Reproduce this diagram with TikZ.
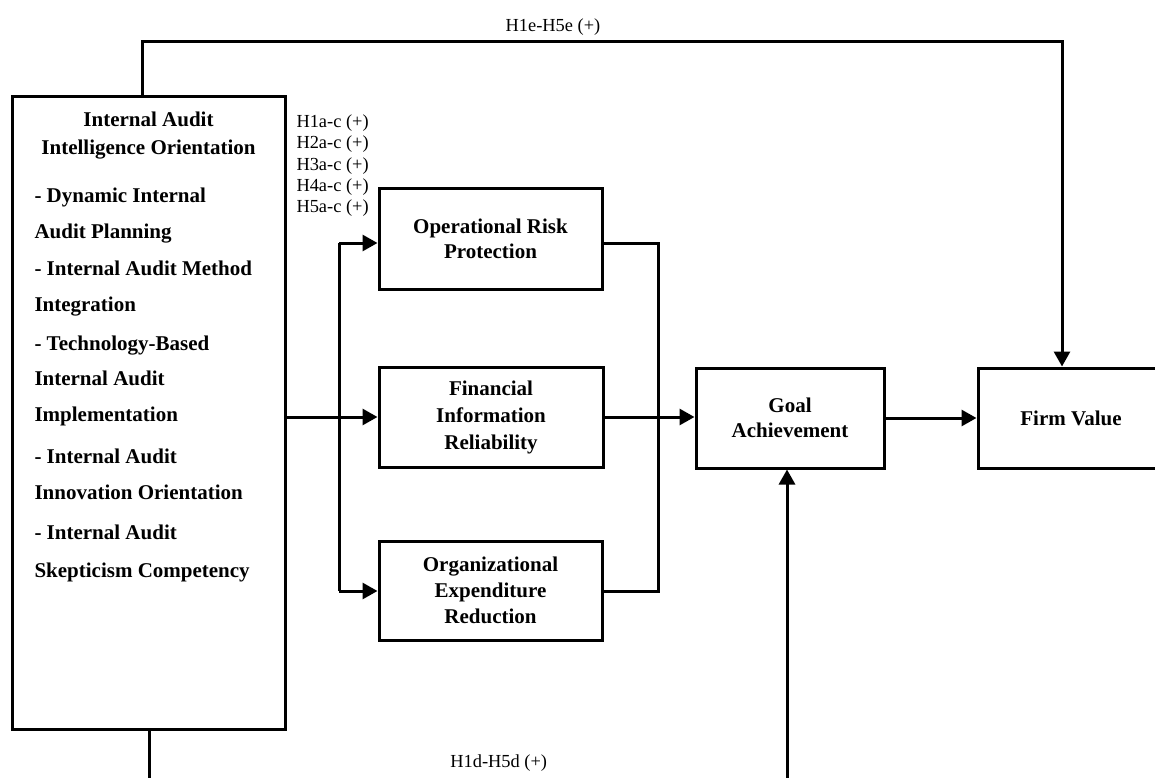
\documentclass[tikz,border=0pt]{standalone}
\usepackage{fontspec}
\setmainfont{Liberation Serif}
\usetikzlibrary{arrows.meta}
\begin{document}
\begin{tikzpicture}[x=1pt,y=-1pt,line width=3pt,
  box/.style={draw, rectangle, inner sep=0pt, align=center,
    font=\bfseries\fontsize{21}{25}\selectfont},
  itm/.style={font=\bfseries\fontsize{21}{25}\selectfont, inner sep=0pt, anchor=base west},
  lbl/.style={font=\fontsize{18.4}{21.2}\selectfont, inner sep=0pt, anchor=base},
  arr/.style={-{Triangle[length=15pt,width=16pt]}}
]
\useasboundingbox (0,0) rectangle (1155,778);

% independent construct with its five dimensions
\node[box, minimum width=273pt, minimum height=632pt] (ia) at (148.5,413) {};
\node[itm, anchor=base] (iat1) at (148.5,127) {Internal Audit};
\node[itm, anchor=base] (iat2) at (148.5,154) {Intelligence Orientation};
\node[itm] (d1a) at (33,202) {- Dynamic Internal};
\node[itm] (d1b) at (33,238) {Audit Planning};
\node[itm] (d2a) at (33,275) {- Internal Audit Method};
\node[itm] (d2b) at (33,311) {Integration};
\node[itm] (d3a) at (33,350) {- Technology-Based};
\node[itm] (d3b) at (33,385) {Internal Audit};
\node[itm] (d3c) at (33,421) {Implementation};
\node[itm] (d4a) at (33,463) {- Internal Audit};
\node[itm] (d4b) at (33,499) {Innovation Orientation};
\node[itm] (d5a) at (33,539) {- Internal Audit};
\node[itm] (d5b) at (33,577) {Skepticism Competency};

% mediators, goal and outcome
\node[box, minimum width=223pt, minimum height=101pt] (orp) at (490.5,238.5) {Operational Risk\\Protection};
\node[box, minimum width=224pt, minimum height=100pt, font=\bfseries\fontsize{21}{27}\selectfont] (fir) at (491,417) {Financial\\Information\\Reliability};
\node[box, minimum width=223pt, minimum height=99pt, font=\bfseries\fontsize{21}{26}\selectfont] (oer) at (490.5,590.5) {Organizational\\Expenditure\\Reduction};
\node[box, minimum width=188pt, minimum height=100pt] (goal) at (790,418) {Goal\\Achievement};
\node[box, minimum width=186pt, minimum height=100pt] (firm) at (1071,418) {Firm Value};

% hypothesis labels
\foreach \i in {1,...,5}
  \node[lbl, anchor=base west] (ha\i) at (295,{127.7+(\i-1)*21.3}) {H\i a-c (+)};
\node[lbl] (he) at (553,32) {H1e-H5e (+)};
\node[lbl] (hd) at (498.7,767) {H1d-H5d (+)};

% split towards the three mediators
\coordinate (sp1) at (339,243);
\coordinate (sp3) at (339,591);
\draw (sp1) -- (sp3);
\draw[arr] (sp1) -- (sp1 -| orp.west);
\draw[arr] (sp3) -- (sp3 -| oer.west);
\draw[arr] (ia.east |- fir.west) -- (fir.west);

% merge into goal achievement
\coordinate (mg1) at (658,243);
\coordinate (mg3) at (658,591);
\draw (orp.east |- mg1) -- (mg1) -- (mg3) -- (oer.east |- mg3);
\draw[arr] (fir.east) -- (fir.east -| goal.west);
\draw[arr] (goal.east) -- (goal.east -| firm.west);

% direct path to firm value
\coordinate (t1) at (142,42);
\coordinate (t2) at (1062,42);
\draw[arr] (t1 |- ia.north) -- (t1) -- (t2) -- (t2 |- firm.north);

% direct path to goal achievement
\coordinate (b1) at (149,778);
\coordinate (b2) at (787,778);
\draw (b1 |- ia.south) -- (b1);
\draw[arr] (b2) -- (b2 |- goal.south);
\end{tikzpicture}
\end{document}
